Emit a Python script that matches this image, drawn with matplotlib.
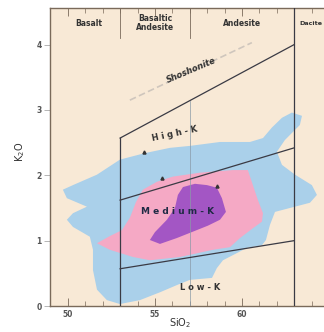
import matplotlib
matplotlib.use("Agg")
import matplotlib.pyplot as plt
from matplotlib.patches import Polygon

# SiO2 / K2O outlines of the arc-volcanic data fields
blue_sio2 = [49.71, 50.29, 51.67, 52.99, 54.43, 55.86, 57.01, 58.74, 60.46, 61.21,
             61.72, 62.30, 62.87, 63.45, 63.33, 62.47, 62.01, 62.30, 63.05, 64.02,
             64.31, 63.91, 62.76, 61.90, 61.61, 61.38, 61.15, 60.29, 59.71, 58.91,
             58.56, 58.28, 57.01, 56.26, 55.29, 54.14, 52.99, 52.24, 51.67, 51.44,
             51.44, 51.26, 50.29, 49.94, 50.29, 51.09, 49.94]
blue_k2o = [1.78, 1.85, 2.01, 2.24, 2.34, 2.42, 2.45, 2.51, 2.51, 2.57,
            2.73, 2.88, 2.96, 2.91, 2.77, 2.54, 2.36, 2.16, 2.01, 1.85,
            1.70, 1.58, 1.50, 1.44, 1.24, 1.01, 0.93, 0.89, 0.81, 0.70,
            0.58, 0.43, 0.40, 0.32, 0.21, 0.09, 0.03, 0.09, 0.25, 0.55,
            0.86, 1.06, 1.21, 1.32, 1.42, 1.52, 1.65]

pink_sio2 = [51.67, 52.41, 53.10, 53.56, 53.91, 54.31, 55.11, 56.03, 57.59, 59.48,
             60.34, 60.63, 60.92, 61.21, 61.15, 60.63, 59.89, 59.31, 58.33, 56.44,
             54.71, 53.74, 52.41]
pink_k2o = [0.96, 1.07, 1.16, 1.35, 1.59, 1.78, 1.90, 1.98, 2.04, 2.08,
            2.08, 1.85, 1.62, 1.42, 1.29, 1.19, 1.04, 0.90, 0.86, 0.75,
            0.70, 0.75, 0.86]

purple_sio2 = [54.71, 55.00, 55.69, 56.15, 56.32, 56.61, 57.30, 57.99, 58.56, 58.85,
               59.08, 58.74, 58.05, 57.30, 56.26, 55.29]
purple_k2o = [1.01, 1.13, 1.32, 1.50, 1.70, 1.82, 1.87, 1.85, 1.81, 1.65,
              1.44, 1.32, 1.23, 1.15, 1.04, 0.95]

# series boundaries, drawn between SiO2 = 53 and 63
bound_sio2 = [53, 63]
shoshonite_k2o = [2.57, 4.00]
high_k2o = [1.62, 2.42]
low_k2o = [0.57, 1.00]

# rock-name divisions (Gill 1981)
rock_bounds = [53, 57, 63]
rock_names = ["Basalt", "Basaltic\nAndesite", "Andesite", "Dacite"]
rock_name_x = [51.2, 55.0, 60.0, 63.95]

marks_sio2 = [54.37, 55.40, 58.56]
marks_k2o = [2.36, 1.96, 1.84]

x_ticks = [50, 55, 60]
y_ticks = [0, 1, 2, 3, 4]

bg = "#f8e9d6"
frame = "#7a6a5a"
ink = "#333333"

fig = plt.figure(figsize=(3.24, 3.32), dpi=100)
ax = fig.add_axes([0.1543, 0.0783, 0.8765, 0.8976])
ax.set_xlim(48.97, 65.29)
ax.set_ylim(0, 4.56)
ax.set_facecolor(bg)

ax.add_patch(Polygon(list(zip(blue_sio2, blue_k2o)), closed=True,
                     facecolor="#aad0ea", edgecolor="none", zorder=1))
ax.add_patch(Polygon(list(zip(pink_sio2, pink_k2o)), closed=True,
                     facecolor="#f5a9c5", edgecolor="none", zorder=2))
ax.add_patch(Polygon(list(zip(purple_sio2, purple_k2o)), closed=True,
                     facecolor="#a356c4", edgecolor="none", zorder=3))

line_kw = dict(color="#3a3a44", lw=0.9, zorder=5)
ax.plot(bound_sio2, shoshonite_k2o, **line_kw)
ax.plot(bound_sio2, high_k2o, **line_kw)
ax.plot(bound_sio2, low_k2o, **line_kw)
ax.plot([bound_sio2[0]] * 2, [0, shoshonite_k2o[0]], **line_kw)
ax.plot([bound_sio2[1]] * 2, [0, 4.56], **line_kw)

# thin 57 wt% divider up to the shoshonite line
k57 = shoshonite_k2o[0] + (57 - 53) * (shoshonite_k2o[1] - shoshonite_k2o[0]) / 10
ax.plot([57, 57], [0, k57], color="#8a9aa8", lw=0.5, zorder=4)

# label band along the top
band_low = 4.1
for b in rock_bounds:
    ax.plot([b, b], [band_low, 4.56], color=frame, lw=0.6, zorder=4)
for name, x in zip(rock_names[:3], rock_name_x[:3]):
    ax.text(x, 4.33, name, ha="center", va="center", fontsize=5.5,
            color=ink, fontweight="bold", linespacing=0.9, zorder=6)
ax.text(rock_name_x[3], 4.33, rock_names[3], ha="center", va="center", fontsize=4.6,
        color=ink, fontweight="bold", zorder=6)

# shoshonite trend
ax.plot([53.56, 60.57], [3.15, 4.03], color="#cfc6bd", lw=1.2, ls=(0, (4, 2)), zorder=4)
ax.text(57.1, 3.6, "Shoshonite", rotation=23, ha="center", va="center",
        fontsize=6, fontweight="bold", fontstyle="italic", color=ink, zorder=6)

ax.text(56.15, 2.63, "H i g h - K", rotation=12, ha="center", va="center",
        fontsize=6, fontweight="bold", color=ink, zorder=6)
ax.text(56.3, 1.44, "M e d i u m - K", ha="center", va="center",
        fontsize=6.5, fontweight="bold", color="#1f2a44", zorder=6)
ax.text(57.6, 0.28, "L o w - K", ha="center", va="center",
        fontsize=6, fontweight="bold", color=ink, zorder=6)

ax.plot(marks_sio2, marks_k2o, ls="none", marker="^", ms=2.2, color="#333333", zorder=6)

for side in ["left", "bottom", "top"]:
    ax.spines[side].set_color(frame)
    ax.spines[side].set_linewidth(1.0)
ax.spines["right"].set_visible(False)

ax.set_xticks(x_ticks)
ax.set_xticks(range(50, 66), minor=True)
ax.set_yticks(y_ticks)
ax.tick_params(axis="x", which="both", direction="in", top=True, color=frame,
               labelsize=5.5, labelcolor="#555555", pad=3)
ax.tick_params(axis="x", which="major", length=6, width=0.6)
ax.tick_params(axis="x", which="minor", length=3.5, width=0.5)
ax.tick_params(axis="y", direction="out", length=4, width=0.5, color="#999999",
               labelsize=5.5, labelcolor="#555555", pad=2)
for lab in ax.get_xticklabels() + ax.get_yticklabels():
    lab.set_fontweight("bold")

fig.text(180 / 324, 1 - 323 / 332, "SiO$_2$", ha="center", va="center",
         fontsize=7, color=ink)
fig.text(20 / 324, 1 - 152 / 332, "K$_2$O", ha="center", va="center",
         fontsize=7, color=ink, rotation=90)

fig.savefig("out.png", dpi=100, facecolor="white")
